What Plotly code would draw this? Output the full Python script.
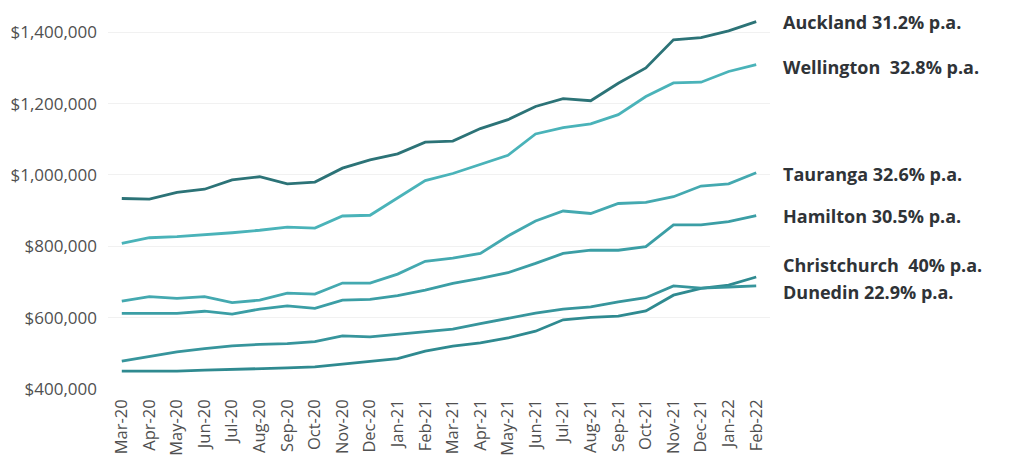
import plotly.graph_objects as go

months = ["Mar-20", "Apr-20", "May-20", "Jun-20", "Jul-20", "Aug-20", "Sep-20", "Oct-20",
          "Nov-20", "Dec-20", "Jan-21", "Feb-21", "Mar-21", "Apr-21", "May-21", "Jun-21",
          "Jul-21", "Aug-21", "Sep-21", "Oct-21", "Nov-21", "Dec-21", "Jan-22", "Feb-22"]

auckland = [934000, 932000, 951000, 960000, 986000, 995000, 975000, 980000,
            1019000, 1042000, 1059000, 1092000, 1095000, 1130000, 1155000, 1192000,
            1214000, 1208000, 1257000, 1300000, 1379000, 1385000, 1404000, 1430000]
wellington = [808000, 824000, 827000, 832000, 838000, 845000, 854000, 851000,
              885000, 887000, 936000, 984000, 1004000, 1030000, 1055000, 1115000,
              1133000, 1143000, 1169000, 1220000, 1258000, 1260000, 1290000, 1309000]
tauranga = [646000, 659000, 654000, 659000, 642000, 649000, 669000, 666000,
            697000, 697000, 722000, 758000, 767000, 780000, 829000, 871000,
            899000, 892000, 920000, 923000, 939000, 969000, 975000, 1006000]
hamilton = [612000, 612000, 612000, 618000, 610000, 624000, 633000, 626000,
            649000, 651000, 662000, 677000, 696000, 710000, 726000, 752000,
            780000, 789000, 789000, 799000, 860000, 860000, 869000, 886000]
christchurch = [450000, 450000, 450000, 453000, 455000, 455000, 459000, 462000,
                469000, 476000, 485000, 506000, 520000, 529000, 543000, 562000,
                594000, 601000, 604000, 619000, 663000, 682000, 691000, 714000]
dunedin = [478000, 492000, 504000, 513000, 521000, 525000, 527000, 533000,
           549000, 546000, 554000, 560000, 568000, 583000, 597000, 613000,
           624000, 630000, 644000, 656000, 689000, 683000, 686000, 689000]

series = [
    ("Auckland", auckland, "#2c7377", "Auckland 31.2% p.a.", 0.989),
    ("Wellington", wellington, "#4ab3b9", "Wellington  32.8% p.a.", 0.868),
    ("Tauranga", tauranga, "#44a9b0", "Tauranga 32.6% p.a.", 0.580),
    ("Hamilton", hamilton, "#3b9ea5", "Hamilton 30.5% p.a.", 0.466),
    ("Christchurch", christchurch, "#2f8a90", "Christchurch  40% p.a.", 0.334),
    ("Dunedin", dunedin, "#37959c", "Dunedin 22.9% p.a.", 0.261),
]

fig = go.Figure()
for name, vals, col, lab, ly in series:
    fig.add_trace(go.Scatter(x=months, y=vals, mode="lines", name=name,
                             line=dict(color=col, width=2.8)))
    fig.add_annotation(text="<b>" + lab + "</b>", xref="paper", yref="paper",
                       x=1.0166, y=ly, xanchor="left", yanchor="middle",
                       showarrow=False,
                       font=dict(family="Open Sans", size=18, color="#2f3337"))

fig.update_xaxes(type="category", tickangle=-90, showgrid=False, showline=False,
                 ticks="", ticklabelstandoff=6, automargin=False,
                 tickfont=dict(family="Open Sans", size=16.5, color="#505050"),
                 range=[-0.5, 23.5])
fig.update_yaxes(range=[400000, 1440000], tick0=400000, dtick=200000,
                 tickprefix="$", tickformat=",d", showgrid=True, gridcolor="#f1f1f1",
                 gridwidth=1, zeroline=False, showline=False, ticks="",
                 ticklabelstandoff=10, automargin=False,
                 tickfont=dict(family="Open Sans", size=17, color="#505050"))

# page body has an 8px margin, so the figure is shrunk to fit the window
fig.update_layout(
    width=1016, height=465,
    margin=dict(l=100, r=254, t=10, b=84),
    plot_bgcolor="white", paper_bgcolor="white",
    showlegend=False,
    font_family="Open Sans",
)

fig.write_html("out.html")
